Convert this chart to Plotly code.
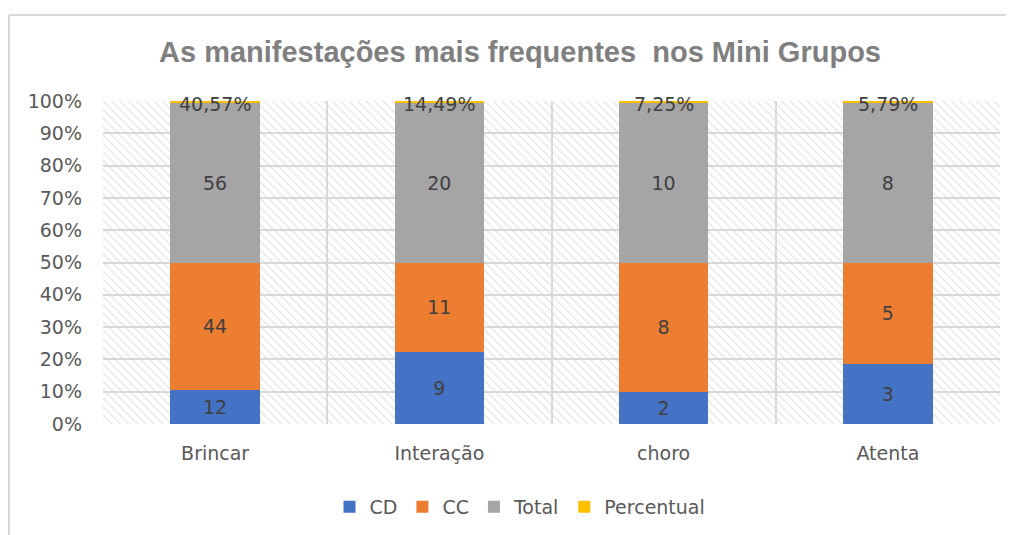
import plotly.graph_objects as go

# dados
categorias = ["Brincar", "Interação", "choro", "Atenta"]
cd = [12, 9, 2, 3]
cc = [44, 11, 8, 5]
total = [56, 20, 10, 8]
percentual = [0.4057, 0.1449, 0.0725, 0.0579]
y_ticks = [0, 10, 20, 30, 40, 50, 60, 70, 80, 90, 100]

cores = {"CD": "#4472C4", "CC": "#ED7D31", "Total": "#A5A5A5", "Percentual": "#FFC000"}
texto_cor = "#404040"
eixo_cor = "#595959"
grade = "#d9d9d9"
fonte = "DejaVu Sans"

fig = go.Figure()

# fundo hachurado da area do grafico (eixos base x/y)
fig.add_trace(go.Bar(
    x=[2], y=[100], width=[4], xaxis="x", yaxis="y",
    marker=dict(color=grade, line_width=0,
                pattern=dict(shape="\\", fgcolor="#d0d0d0",
                             bgcolor="rgba(0,0,0,0)", size=6, solidity=0.25)),
    showlegend=False, hoverinfo="skip",
))

series = [("CD", cd), ("CC", cc), ("Total", total)]
for nome, vals in series:
    fig.add_trace(go.Bar(
        name=nome, x=categorias, y=vals, xaxis="x2", yaxis="y2",
        marker=dict(color=cores[nome], line_width=0),
        text=[str(v) for v in vals], textposition="inside",
        insidetextanchor="middle",
        textfont=dict(family=fonte, size=19, color=texto_cor),
        width=0.4,
    ))

fig.add_trace(go.Bar(
    name="Percentual", x=categorias, y=percentual, xaxis="x2", yaxis="y2",
    marker=dict(color=cores["Percentual"], line_width=0),
    width=0.4,
))

# rotulos do percentual no topo das colunas
for cat, p in zip(categorias, percentual):
    fig.add_annotation(
        x=cat, y=100, xref="x2", yref="y2",
        text=f"{p * 100:.2f}%".replace(".", ","),
        showarrow=False, yanchor="middle", yshift=-3,
        font=dict(family=fonte, size=19, color=texto_cor),
    )

# a pagina tem margem de 8px: a figura comeca em (8, 8)
OFF = 8
W, H = 1014 - OFF, 535 - OFF
L = 103 - OFF
T = 101 - OFF
R = W - (1000 - OFF)
B = H - (424 - OFF)
pw, ph = W - L - R, H - T - B
xl = (9 - OFF - L) / pw
xr = (1013 - OFF - L) / pw
yt = 1 + (T - (15 - OFF)) / ph
yb = -(B + 5) / ph
fig.add_shape(type="line", xref="paper", yref="paper", x0=xl, x1=xl, y0=yb, y1=yt,
              line=dict(color=grade, width=2))
fig.add_shape(type="line", xref="paper", yref="paper", x0=xl, x1=xr, y0=yt, y1=yt,
              line=dict(color=grade, width=2))

fig.update_layout(
    width=W, height=H,
    margin=dict(l=L, r=R, t=T, b=B, autoexpand=False),
    barmode="stack", barnorm="percent",
    paper_bgcolor="white", plot_bgcolor="white",
    font=dict(family=fonte, size=19, color=eixo_cor),
    title=dict(text="As manifestações mais frequentes  nos Mini Grupos",
               x=(520 - OFF) / W, xanchor="center", xref="container",
               y=1 - (52 - OFF) / H, yanchor="middle", yref="container",
               font=dict(family="Liberation Sans", size=29, color="#7f7f7f",
                         weight="bold")),
    xaxis=dict(range=[0, 4], tickvals=[0, 1, 2, 3, 4], showticklabels=False,
               showgrid=True, gridcolor=grade, gridwidth=2, zeroline=False,
               ticks=""),
    yaxis=dict(range=[0, 100], tickvals=y_ticks,
               ticktext=[f"{v}%" for v in y_ticks],
               showgrid=True, gridcolor=grade, gridwidth=2, zeroline=False,
               ticks="", ticklabelstandoff=20,
               tickfont=dict(family=fonte, size=19, color=eixo_cor)),
    xaxis2=dict(overlaying="x", side="bottom", anchor="y2", showgrid=False,
                zeroline=False, ticks="", categoryorder="array",
                categoryarray=categorias, ticklabelstandoff=16,
                tickfont=dict(family=fonte, size=19, color=eixo_cor)),
    yaxis2=dict(overlaying="y", range=[0, 100], visible=False),
    legend=dict(orientation="h", xref="container", yref="container",
                x=(520 - OFF) / W, xanchor="center", y=1 - (507 - OFF) / H,
                yanchor="middle",
                font=dict(family=fonte, size=19, color=eixo_cor),
                traceorder="normal", itemwidth=30),
)

fig.write_html("out.html")
